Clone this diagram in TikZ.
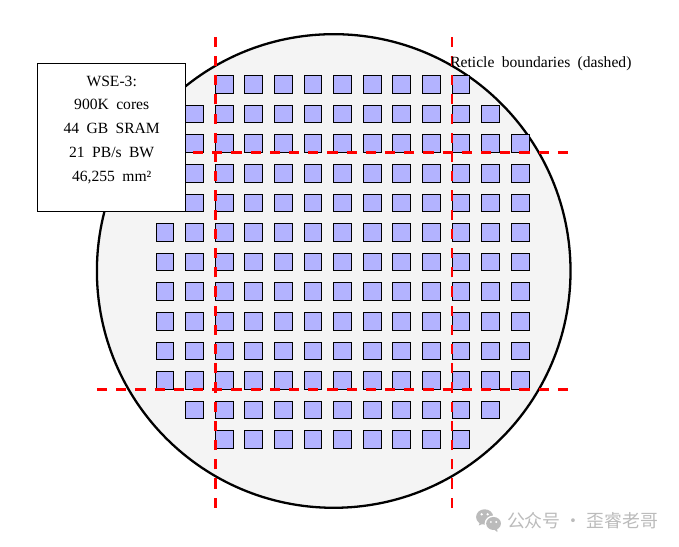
\documentclass[tikz,border=0pt]{standalone}
\usepackage{fontspec}
\setmainfont[WordSpace=1.9]{Liberation Serif}
\newfontfamily\cjk{Noto Sans CJK SC}
\definecolor{corefill}{HTML}{B3B3FF}
\definecolor{waferfill}{HTML}{F4F4F4}
\definecolor{markgray}{HTML}{BBBBBB}
\tikzset{
  wafer/.style={draw=black,line width=2.2pt,fill=waferfill},
  coretile/.style={draw=black,line width=0.95pt,fill=corefill},
  reticle/.style={draw=red,line width=2.4pt,dash pattern=on 9.8pt off 8.66pt},
  infobox/.style={draw=black,line width=0.9pt,fill=white,minimum width=5cm,minimum height=5cm,align=center,inner sep=0pt,font=\fontsize{15}{23}\selectfont},
  reticlelabel/.style={anchor=west,inner sep=0pt,font=\fontsize{15}{17}\selectfont},
  marktext/.style={anchor=west,inner sep=0pt,text=markgray,font=\cjk\fontsize{17.2}{19}\selectfont}
}
\begin{document}
\begin{tikzpicture}
\useasboundingbox (-11.274,-9.324) rectangle (11.665,9.155);
\draw[wafer] (0,0) circle (8);
\foreach \i in {-6,...,6}{
  \foreach \j in {-6,...,6}{
    \pgfmathtruncatemacro{\dd}{\i*\i+\j*\j}
    \ifnum\dd<56
      \draw[coretile] (\i,\j) rectangle ++(0.6,0.6);
    \fi
  }
}
\coordinate (vla) at (-4,-8);
\coordinate (vlb) at (-4,8);
\coordinate (vra) at (4,-8);
\coordinate (vrb) at (4,8);
\coordinate (hla) at (-8,-4);
\coordinate (hlb) at (8,-4);
\coordinate (hua) at (-8,4);
\coordinate (hub) at (8,4);
\draw[reticle] (vla) -- (vlb);
\draw[reticle] (vra) -- (vrb);
\draw[reticle] (hla) -- (hlb);
\draw[reticle] (hua) -- (hub);
\node[infobox] (info) at (-7.5,4.5) {WSE-3:\\900K cores\\44 GB SRAM\\21 PB/s BW\\46,255 mm²\\[-5.6pt]\mbox{}};
\node[reticlelabel] (retlabel) at (3.93,7.0) {Reticle boundaries (dashed)};
% watermark
\begin{scope}[markgray]
\fill (5.1,-8.31) ellipse (0.29 and 0.26);
\fill (4.9,-8.6) -- (4.95,-8.45) -- (5.06,-8.53) -- cycle;
\fill[white] (5.4,-8.53) ellipse (0.3 and 0.27);
\fill (5.4,-8.53) ellipse (0.25 and 0.22);
\fill (5.53,-8.82) -- (5.52,-8.68) -- (5.4,-8.72) -- cycle;
\fill[white] (5.0,-8.22) circle (0.045) (5.2,-8.22) circle (0.045) (5.31,-8.48) circle (0.035) (5.49,-8.48) circle (0.035);
\end{scope}
\node[marktext] (mark) at (5.85,-8.45) {公众号 · 歪睿老哥};
\end{tikzpicture}
\end{document}
